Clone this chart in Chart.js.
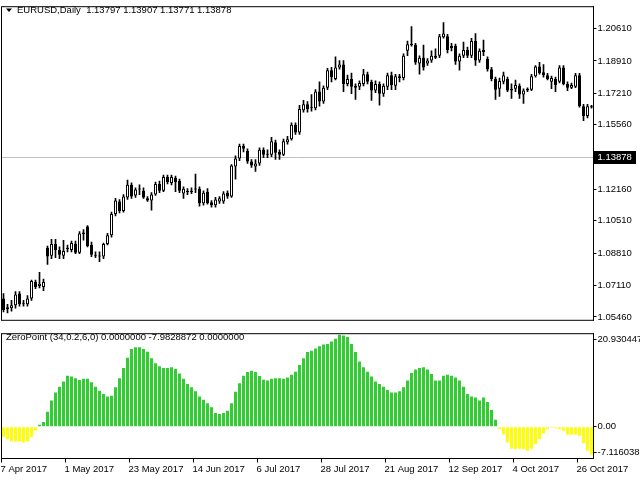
<!DOCTYPE html>
<html>
<head>
<meta charset="utf-8">
<script src="https://cdn.jsdelivr.net/npm/chart.js@4.4.0/dist/chart.umd.min.js"></script>
<style>
    html, body { margin: 0; padding: 0; background: #fff; }
    #wrap { position: relative; width: 640px; height: 480px; overflow: hidden; }
    #price { position: absolute; left: 0; top: 0; }
    #osc { position: absolute; left: 0; top: 327px; }
</style>
</head>
<body>
<div id="wrap">
    <canvas id="price" width="640" height="327"></canvas>
    <canvas id="osc" width="640" height="153"></canvas>
</div>
<script>
// EURUSD daily candles, 7 Apr 2017 .. 31 Oct 2017
const opens = [
    1.0643, 1.0587, 1.0592, 1.0607, 1.0669, 1.0613, 1.0613, 1.0643, 1.0730, 1.0709,
    1.0704, 1.0909, 1.0868, 1.0929, 1.0898, 1.0868, 1.0903, 1.0898, 1.0929, 1.0883,
    1.0980, 1.1021, 1.0924, 1.0873, 1.0863, 1.0863, 1.0929, 1.0975, 1.1087, 1.1153,
    1.1102, 1.1174, 1.1240, 1.1184, 1.1215, 1.1209, 1.1169, 1.1158, 1.1189, 1.1245,
    1.1209, 1.1281, 1.1250, 1.1276, 1.1260, 1.1194, 1.1204, 1.1202, 1.1215, 1.1220,
    1.1143, 1.1204, 1.1148, 1.1133, 1.1153, 1.1153, 1.1199, 1.1179, 1.1337, 1.1378,
    1.1444, 1.1418, 1.1362, 1.1337, 1.1352, 1.1424, 1.1403, 1.1398, 1.1464, 1.1413,
    1.1398, 1.1464, 1.1480, 1.1556, 1.1515, 1.1632, 1.1663, 1.1643, 1.1643, 1.1730,
    1.1678, 1.1750, 1.1842, 1.1796, 1.1857, 1.1872, 1.1770, 1.1796, 1.1760, 1.1755,
    1.1770, 1.1821, 1.1781, 1.1735, 1.1770, 1.1719, 1.1755, 1.1816, 1.1760, 1.1801,
    1.1801, 1.1944, 1.1979, 1.1974, 1.1878, 1.1908, 1.1877, 1.1893, 1.1908, 1.1918,
    1.2015, 1.2020, 1.1959, 1.1969, 1.1888, 1.1918, 1.1949, 1.1918, 1.1995, 1.1893,
    1.1949, 1.1903, 1.1847, 1.1796, 1.1745, 1.1781, 1.1796, 1.1735, 1.1745, 1.1760,
    1.1714, 1.1735, 1.1740, 1.1811, 1.1862, 1.1832, 1.1816, 1.1781, 1.1796, 1.1781,
    1.1857, 1.1770, 1.1750, 1.1755, 1.1816, 1.1653, 1.1602, 1.1648
];
const highs = [
    1.0669, 1.0613, 1.0633, 1.0679, 1.0679, 1.0633, 1.0658, 1.0740, 1.0740, 1.0781,
    1.0745, 1.0919, 1.0954, 1.0954, 1.0914, 1.0949, 1.0924, 1.0944, 1.0944, 1.0995,
    1.1005, 1.1026, 1.0939, 1.0888, 1.0888, 1.0934, 1.0985, 1.1097, 1.1169, 1.1163,
    1.1189, 1.1265, 1.1250, 1.1225, 1.1240, 1.1225, 1.1179, 1.1199, 1.1255, 1.1260,
    1.1291, 1.1291, 1.1291, 1.1286, 1.1270, 1.1230, 1.1220, 1.1225, 1.1296, 1.1230,
    1.1209, 1.1220, 1.1158, 1.1174, 1.1179, 1.1204, 1.1209, 1.1347, 1.1393, 1.1454,
    1.1454, 1.1429, 1.1373, 1.1373, 1.1434, 1.1434, 1.1424, 1.1490, 1.1475, 1.1424,
    1.1480, 1.1495, 1.1566, 1.1566, 1.1658, 1.1684, 1.1678, 1.1714, 1.1740, 1.1781,
    1.1760, 1.1852, 1.1857, 1.1913, 1.1893, 1.1893, 1.1816, 1.1827, 1.1770, 1.1786,
    1.1847, 1.1832, 1.1791, 1.1786, 1.1781, 1.1770, 1.1827, 1.1832, 1.1821, 1.1821,
    1.1928, 1.1995, 1.2071, 1.1984, 1.1918, 1.1974, 1.1903, 1.1944, 1.1954, 1.2031,
    1.2092, 1.2031, 1.1984, 1.1979, 1.1928, 1.1990, 1.1964, 1.2010, 1.2035, 1.1954,
    1.2000, 1.1913, 1.1857, 1.1806, 1.1801, 1.1832, 1.1806, 1.1770, 1.1791, 1.1770,
    1.1745, 1.1750, 1.1821, 1.1867, 1.1883, 1.1872, 1.1826, 1.1811, 1.1806, 1.1867,
    1.1867, 1.1781, 1.1775, 1.1826, 1.1826, 1.1663, 1.1663, 1.1658
];
const lows = [
    1.0572, 1.0567, 1.0577, 1.0592, 1.0603, 1.0603, 1.0603, 1.0633, 1.0694, 1.0699,
    1.0684, 1.0822, 1.0852, 1.0857, 1.0852, 1.0852, 1.0888, 1.0888, 1.0878, 1.0878,
    1.0949, 1.0914, 1.0863, 1.0857, 1.0837, 1.0852, 1.0924, 1.0965, 1.1077, 1.1092,
    1.1097, 1.1163, 1.1169, 1.1174, 1.1189, 1.1169, 1.1153, 1.1107, 1.1184, 1.1199,
    1.1204, 1.1245, 1.1240, 1.1204, 1.1199, 1.1169, 1.1189, 1.1194, 1.1199, 1.1128,
    1.1133, 1.1138, 1.1123, 1.1123, 1.1143, 1.1143, 1.1169, 1.1174, 1.1270, 1.1367,
    1.1413, 1.1352, 1.1331, 1.1311, 1.1342, 1.1383, 1.1383, 1.1388, 1.1373, 1.1373,
    1.1393, 1.1454, 1.1475, 1.1505, 1.1505, 1.1622, 1.1622, 1.1627, 1.1633, 1.1653,
    1.1668, 1.1740, 1.1781, 1.1791, 1.1847, 1.1730, 1.1760, 1.1719, 1.1689, 1.1740,
    1.1760, 1.1770, 1.1684, 1.1724, 1.1658, 1.1704, 1.1740, 1.1740, 1.1740, 1.1781,
    1.1791, 1.1918, 1.1969, 1.1872, 1.1822, 1.1842, 1.1867, 1.1883, 1.1903, 1.1908,
    1.2010, 1.1933, 1.1944, 1.1872, 1.1842, 1.1908, 1.1908, 1.1908, 1.1867, 1.1883,
    1.1918, 1.1837, 1.1786, 1.1689, 1.1704, 1.1770, 1.1730, 1.1694, 1.1730, 1.1694,
    1.1668, 1.1730, 1.1735, 1.1806, 1.1821, 1.1806, 1.1791, 1.1745, 1.1730, 1.1776,
    1.1765, 1.1735, 1.1745, 1.1750, 1.1648, 1.1577, 1.1592, 1.1643
];
const closes = [
    1.0582, 1.0597, 1.0607, 1.0664, 1.0613, 1.0618, 1.0643, 1.0735, 1.0704, 1.0720,
    1.0730, 1.0863, 1.0929, 1.0898, 1.0873, 1.0893, 1.0909, 1.0934, 1.0883, 1.0985,
    1.0990, 1.0919, 1.0873, 1.0868, 1.0868, 1.0929, 1.0975, 1.1087, 1.1158, 1.1102,
    1.1179, 1.1240, 1.1179, 1.1215, 1.1220, 1.1174, 1.1158, 1.1189, 1.1245, 1.1209,
    1.1281, 1.1255, 1.1281, 1.1255, 1.1209, 1.1220, 1.1202, 1.1209, 1.1220, 1.1143,
    1.1199, 1.1143, 1.1133, 1.1163, 1.1169, 1.1194, 1.1179, 1.1342, 1.1378, 1.1444,
    1.1429, 1.1362, 1.1342, 1.1352, 1.1424, 1.1398, 1.1398, 1.1469, 1.1408, 1.1398,
    1.1469, 1.1480, 1.1556, 1.1515, 1.1638, 1.1663, 1.1638, 1.1648, 1.1730, 1.1678,
    1.1750, 1.1842, 1.1806, 1.1857, 1.1872, 1.1770, 1.1796, 1.1755, 1.1750, 1.1775,
    1.1821, 1.1781, 1.1735, 1.1770, 1.1719, 1.1760, 1.1816, 1.1765, 1.1811, 1.1811,
    1.1918, 1.1979, 1.1974, 1.1883, 1.1908, 1.1857, 1.1893, 1.1918, 1.1918, 1.2020,
    1.2035, 1.1949, 1.1969, 1.1888, 1.1918, 1.1949, 1.1918, 1.1995, 1.1893, 1.1944,
    1.1938, 1.1847, 1.1796, 1.1740, 1.1786, 1.1816, 1.1735, 1.1745, 1.1765, 1.1714,
    1.1735, 1.1745, 1.1811, 1.1862, 1.1826, 1.1816, 1.1796, 1.1801, 1.1765, 1.1857,
    1.1770, 1.1750, 1.1765, 1.1816, 1.1653, 1.1602, 1.1653, 1.1653
];

// ZeroPoint (34,0.2,6,0) histogram
const zeroPoint = [
    -2.3, -2.8, -3.3, -3.3, -3.3, -3.5, -3.3, -2.3, -0.9, 0.45,
    1.1, 3.4, 5.9, 7.7, 9.0, 10.2, 11.5, 11.3, 10.9, 10.5,
    10.8, 10.8, 10.0, 9.0, 8.1, 7.4, 6.8, 7.0, 8.9, 10.9,
    13.2, 15.5, 17.5, 17.9, 17.9, 17.5, 16.9, 15.4, 14.3, 13.6,
    13.2, 13.2, 13.4, 13.0, 12.0, 10.8, 9.6, 8.9, 8.0, 6.8,
    6.1, 5.3, 4.4, 3.1, 2.9, 3.1, 3.6, 5.3, 7.9, 9.8,
    11.5, 12.3, 12.6, 12.3, 11.4, 10.6, 10.4, 10.8, 10.9, 10.9,
    10.8, 11.1, 11.7, 12.4, 13.9, 15.4, 16.8, 17.1, 17.6, 18.1,
    18.5, 18.6, 19.2, 19.8, 20.7, 20.5, 20.2, 18.6, 16.8, 14.7,
    13.4, 12.4, 11.3, 10.2, 9.6, 9.0, 8.3, 7.7, 7.7, 8.0,
    8.9, 10.4, 12.1, 12.9, 13.2, 13.4, 12.9, 11.9, 10.4, 10.4,
    11.5, 11.7, 11.5, 11.1, 10.4, 9.0, 7.4, 6.8, 6.6, 5.9,
    6.6, 5.6, 3.8, 1.6, -0.5, -1.7, -3.5, -4.9, -5.0, -4.9,
    -5.0, -5.4, -4.9, -3.9, -2.8, -1.5, -0.5, -0.1, -0.3, -0.5,
    -0.9, -1.8, -1.8, -1.8, -2.0, -3.7, -5.4, -6.3
];

// axis labels
const dateTicks = ['7 Apr 2017', '1 May 2017', '23 May 2017', '14 Jun 2017', '6 Jul 2017',
    '28 Jul 2017', '21 Aug 2017', '12 Sep 2017', '4 Oct 2017', '26 Oct 2017'];
const dateTickStep = 16;
const priceTicks = [1.20610, 1.18910, 1.17210, 1.15560, 1.12160, 1.10510, 1.08810, 1.07110, 1.05460];
const oscTickValues = [20.930447, 0, -7.116038];
const oscTickLabels = ['20.930447', '0.00', '-7.116038'];
const lastPrice = 1.13878;
const headerText = 'EURUSD,Daily  1.13797 1.13907 1.13771 1.13878';
const oscText = 'ZeroPoint (34,0.2,6,0) 0.0000000 -7.9828872 0.0000000';

const labels = opens.map((o, i) => i);
const FONT = { family: '"Liberation Sans", Arial, sans-serif', size: 9.5 };
const FONT_CSS = '9.5px "Liberation Sans", Arial, sans-serif';

// black frame around each plot area
const frame = {
    id: 'frame',
    afterDraw(chart) {
        const a = chart.chartArea, ctx = chart.ctx;
        ctx.save();
        ctx.strokeStyle = '#000';
        ctx.lineWidth = 1;
        ctx.strokeRect(a.left, a.top, a.right - a.left, a.bottom - a.top);
        ctx.restore();
    }
};

// current price line + price box
const priceLine = {
    id: 'priceLine',
    beforeDatasetsDraw(chart) {
        const a = chart.chartArea, ctx = chart.ctx;
        const y = Math.round(chart.scales.y.getPixelForValue(lastPrice)) + 0.5;
        ctx.save();
        ctx.strokeStyle = '#C0C0C0';
        ctx.lineWidth = 1;
        ctx.beginPath();
        ctx.moveTo(a.left, y);
        ctx.lineTo(a.right, y);
        ctx.stroke();
        ctx.restore();
    },
    afterDraw(chart) {
        const a = chart.chartArea, ctx = chart.ctx;
        const y = Math.round(chart.scales.y.getPixelForValue(lastPrice));
        ctx.save();
        ctx.fillStyle = '#000';
        ctx.fillRect(a.right + 0.5, y - 6, 42, 13);
        ctx.fillStyle = '#fff';
        ctx.font = FONT_CSS;
        ctx.textBaseline = 'middle';
        ctx.fillText(lastPrice.toFixed(5), a.right + 4, y + 0.5);
        ctx.restore();
    }
};

const header = {
    id: 'header',
    afterDraw(chart) {
        const ctx = chart.ctx;
        ctx.save();
        ctx.fillStyle = '#000';
        ctx.beginPath();
        ctx.moveTo(6, 8.5);
        ctx.lineTo(12, 8.5);
        ctx.lineTo(9, 12);
        ctx.closePath();
        ctx.fill();
        ctx.font = FONT_CSS;
        ctx.textBaseline = 'middle';
        ctx.fillText(headerText, 17, 10.5);
        ctx.restore();
    }
};

const oscHeader = {
    id: 'oscHeader',
    afterDraw(chart) {
        const ctx = chart.ctx;
        ctx.save();
        ctx.fillStyle = '#000';
        ctx.font = FONT_CSS;
        ctx.textBaseline = 'middle';
        ctx.fillText(oscText, 6, 10.5);
        ctx.restore();
    }
};

// Price panel: candles as floating bars (body + wick)
new Chart(document.getElementById('price'), {
    type: 'bar',
    data: {
        labels: labels,
        datasets: [
            {
                label: 'body',
                data: opens.map((o, i) => [o, closes[i]]),
                backgroundColor: opens.map((o, i) => closes[i] >= o ? '#fff' : '#000'),
                borderColor: '#000',
                borderWidth: 1,
                borderSkipped: false,
                barPercentage: 0.75,
                categoryPercentage: 1,
                minBarLength: 1,
                grouped: false,
                order: 1
            },
            {
                label: 'wick',
                data: lows.map((l, i) => [l, highs[i]]),
                backgroundColor: '#000',
                barThickness: 1,
                grouped: false,
                order: 2
            }
        ]
    },
    options: {
        responsive: false,
        animation: false,
        layout: { padding: { left: 1.5, top: 2.5, right: 0, bottom: 1.5 } },
        plugins: { legend: { display: false }, tooltip: { enabled: false } },
        scales: {
            x: { display: false, offset: true },
            y: {
                position: 'right',
                min: 1.05285,
                max: 1.21758,
                bounds: 'data',
                afterFit(scale) { scale.width = 46.5; },
                afterBuildTicks(scale) { scale.ticks = priceTicks.map(v => ({ value: v })); },
                ticks: { callback: v => v.toFixed(5), font: FONT, color: '#000', padding: 1 },
                grid: { drawOnChartArea: false, tickLength: 3, color: '#000' },
                border: { color: '#000' }
            }
        }
    },
    plugins: [priceLine, frame, header]
});

// Indicator panel
new Chart(document.getElementById('osc'), {
    type: 'bar',
    data: {
        labels: labels,
        datasets: [{
            label: 'ZeroPoint',
            data: zeroPoint,
            backgroundColor: zeroPoint.map(v => v >= 0 ? '#32CD32' : '#FFFF00'),
            borderWidth: 0,
            barPercentage: 0.75,
            categoryPercentage: 1,
            minBarLength: 1
        }]
    },
    options: {
        responsive: false,
        animation: false,
        layout: { padding: { left: 1.5, top: 0.5, right: 0, bottom: 0 } },
        plugins: { legend: { display: false }, tooltip: { enabled: false } },
        scales: {
            x: {
                offset: true,
                afterFit(scale) { scale.height = 21.5; },
                grid: {
                    drawOnChartArea: false,
                    offset: true,
                    tickLength: 4,
                    color: ctx => ctx.index % dateTickStep === 0 && ctx.index < labels.length ? '#000' : 'rgba(0,0,0,0)'
                },
                border: { color: '#000' },
                ticks: {
                    autoSkip: false,
                    maxRotation: 0,
                    minRotation: 0,
                    align: 'start',
                    labelOffset: -3,
                    padding: 1,
                    font: FONT,
                    color: '#000',
                    callback: (v, i) => i % dateTickStep === 0 ? dateTicks[i / dateTickStep] : ''
                }
            },
            y: {
                position: 'right',
                min: -7.116038,
                max: 20.930447,
                bounds: 'data',
                afterFit(scale) { scale.width = 46.5; },
                // MT4 pulls the edge labels inside the window
                afterBuildTicks(scale) {
                    scale.ticks = oscTickValues.map(v => ({
                        value: Math.min(Math.max(v, scale.min + 1.35), scale.max - 1.35)
                    }));
                },
                ticks: { callback: (v, i) => oscTickLabels[i], font: FONT, color: '#000', padding: 1 },
                grid: { drawOnChartArea: false, tickLength: 3, color: '#000' },
                border: { color: '#000' }
            }
        }
    },
    plugins: [frame, oscHeader]
});
</script>
</body>
</html>
